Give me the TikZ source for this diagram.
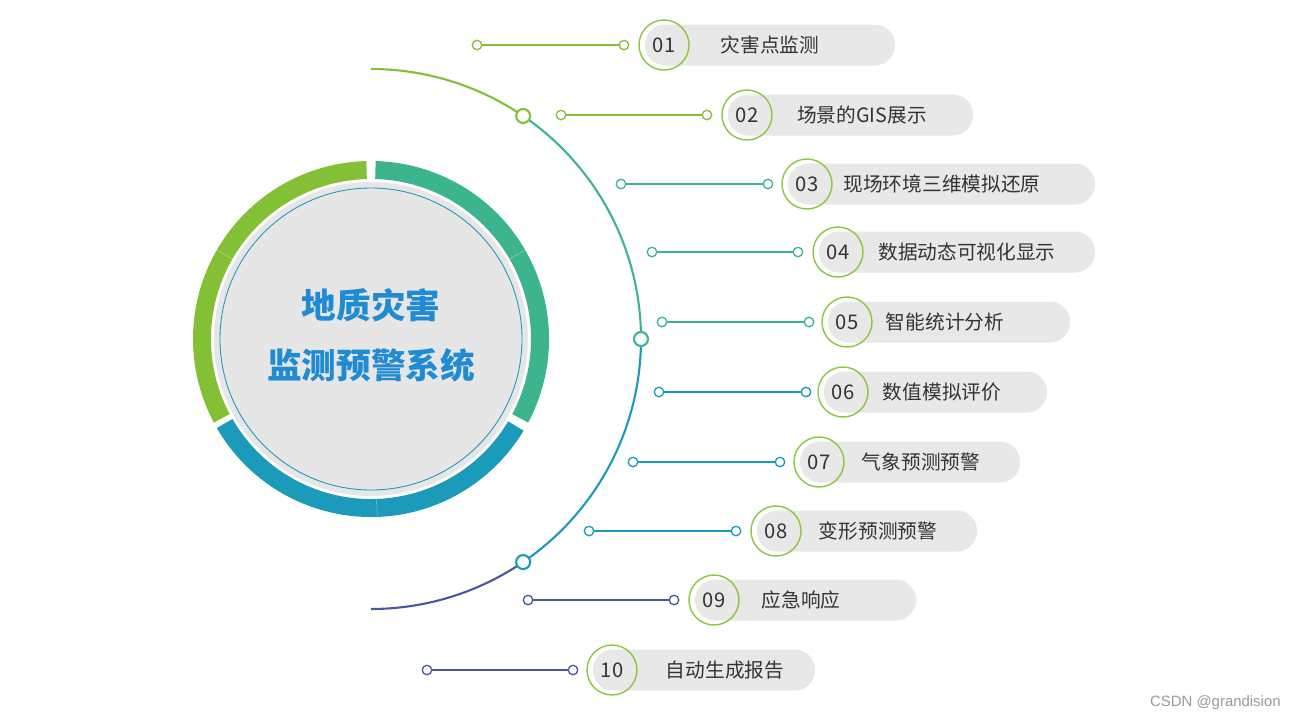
\documentclass[tikz,border=0pt]{standalone}
\usepackage{fontspec}
\setmainfont{Noto Sans CJK SC}
\newfontfamily\wmfont{Liberation Sans}
\definecolor{cgreen}{HTML}{84C036}
\definecolor{cteal}{HTML}{3CB58F}
\definecolor{cblue}{HTML}{1B9ABA}
\definecolor{cindigo}{HTML}{4B55A3}
\definecolor{ringgreen}{HTML}{8CC63F}
\definecolor{pillgray}{HTML}{E8E8E8}
\definecolor{discgray}{HTML}{E6E6E6}
\definecolor{titleblue}{HTML}{1E8BD2}
\definecolor{txtgray}{HTML}{333333}

\begin{document}
\begin{tikzpicture}[x=0.02cm, y=0.02cm,
	dot/.style={circle, fill=white, line width=0.75pt, inner sep=0pt, minimum size=0.19cm},
	arcdot/.style={circle, fill=white, line width=1.2pt, inner sep=0pt, minimum size=0.28cm},
	link/.style={line width=0.85pt},
	pill/.style={fill=pillgray, rounded corners=0.4cm, minimum height=0.82cm, inner sep=0pt},
	numring/.style={circle, draw=ringgreen, line width=0.8pt, minimum size=1cm, inner sep=0pt, text=txtgray, font=\fontsize{11.5}{13}\selectfont},
	item/.style={text=txtgray, font=\fontsize{11.2}{13}\selectfont, inner sep=0pt},
	title/.style={text=titleblue, align=center, font=\fontsize{19.7}{34}\selectfont\bfseries},
	wmark/.style={text=black!40, font=\wmfont\fontsize{8.5}{10}\selectfont, inner sep=0pt}]
	\useasboundingbox (0,-721) rectangle (1295,0);

	\begin{scope}[shift={(371,-339)}]
		\fill[discgray] (0,0) circle (157);
		\draw[cblue, line width=0.5pt] (0,0) circle (151);
		\fill[cgreen] (91.5:178) arc (91.5:208:178) -- (208:160) arc (208:91.5:160) -- cycle;
		\fill[cteal] (-28:178) arc (-28:88.5:178) -- (88.5:160) arc (88.5:-28:160) -- cycle;
		\fill[cblue] (-150:178) arc (-150:-31:178) -- (-31:160) arc (-31:-150:160) -- cycle;
		\draw[white, opacity=0.4, line width=0.3pt] (150:160) -- (150:178) (30:160) -- (30:178) (-88:160) -- (-88:178);

		\draw[cgreen, line width=1.2pt] (90:270) arc (90:55.7:270);
		\draw[cteal, line width=1.2pt] (55.7:270) arc (55.7:0:270);
		\draw[cblue, line width=1.2pt] (0:270) arc (0:-55.7:270);
		\draw[cindigo, line width=1.2pt] (-55.7:270) arc (-55.7:-90:270);
		\node[arcdot, draw=cgreen] (m1) at (55.7:270) {};
		\node[arcdot, draw=cteal] (m2) at (0:270) {};
		\node[arcdot, draw=cblue] (m3) at (-55.7:270) {};

		\node[title] (title) at (0,4) {地质灾害\\监测预警系统};
	\end{scope}

	\node[dot, draw=cgreen] (a1) at (477,-45) {}; \node[dot, draw=cgreen] (b1) at (624,-45) {};
	\draw[link, cgreen] (a1) -- (b1);
	\node[pill, minimum width=5cm] (p1) at (770,-45) {};
	\node[numring] (n1) at (664,-45) {01};
	\node[item] (t1) at (770,-45) {灾害点监测};

	\node[dot, draw=cgreen] (a2) at (561,-115) {}; \node[dot, draw=cgreen] (b2) at (707,-115) {};
	\draw[link, cgreen] (a2) -- (b2);
	\node[pill, minimum width=4.9cm] (p2) at (850.5,-115) {};
	\node[numring] (n2) at (747,-115) {02};
	\node[item] (t2) at (862,-115) {场景的GIS展示};

	\node[dot, draw=cteal] (a3) at (621,-184) {}; \node[dot, draw=cteal] (b3) at (768,-184) {};
	\draw[link, cteal] (a3) -- (b3);
	\node[pill, minimum width=6.14cm] (p3) at (941.5,-184) {};
	\node[numring] (n3) at (807,-184) {03};
	\node[item] (t3) at (942,-184) {现场环境三维模拟还原};

	\node[dot, draw=cteal] (a4) at (652,-252) {}; \node[dot, draw=cteal] (b4) at (798,-252) {};
	\draw[link, cteal] (a4) -- (b4);
	\node[pill, minimum width=5.52cm] (p4) at (957,-252) {};
	\node[numring] (n4) at (838,-252) {04};
	\node[item] (t4) at (967,-252) {数据动态可视化显示};

	\node[dot, draw=cteal] (a5) at (662,-322) {}; \node[dot, draw=cteal] (b5) at (809,-322) {};
	\draw[link, cteal] (a5) -- (b5);
	\node[pill, minimum width=4.84cm] (p5) at (949,-322) {};
	\node[numring] (n5) at (847,-322) {05};
	\node[item] (t5) at (945,-322) {智能统计分析};

	\node[dot, draw=cblue] (a6) at (659,-392) {}; \node[dot, draw=cblue] (b6) at (806,-392) {};
	\draw[link, cblue] (a6) -- (b6);
	\node[pill, minimum width=4.46cm] (p6) at (935.5,-392) {};
	\node[numring] (n6) at (843,-392) {06};
	\node[item] (t6) at (942,-392) {数值模拟评价};

	\node[dot, draw=cblue] (a7) at (633,-462) {}; \node[dot, draw=cblue] (b7) at (780,-462) {};
	\draw[link, cblue] (a7) -- (b7);
	\node[pill, minimum width=4.4cm] (p7) at (910,-462) {};
	\node[numring] (n7) at (819,-462) {07};
	\node[item] (t7) at (921,-462) {气象预测预警};

	\node[dot, draw=cblue] (a8) at (589,-531) {}; \node[dot, draw=cblue] (b8) at (736,-531) {};
	\draw[link, cblue] (a8) -- (b8);
	\node[pill, minimum width=4.4cm] (p8) at (867,-531) {};
	\node[numring] (n8) at (776,-531) {08};
	\node[item] (t8) at (878,-531) {变形预测预警};

	\node[dot, draw=cindigo] (a9) at (528,-600) {}; \node[dot, draw=cindigo] (b9) at (674,-600) {};
	\draw[link, cindigo] (a9) -- (b9);
	\node[pill, minimum width=4.42cm] (p9) at (805.5,-600) {};
	\node[numring] (n9) at (714,-600) {09};
	\node[item] (t9) at (801,-600) {应急响应};

	\node[dot, draw=cindigo] (a10) at (427,-670) {}; \node[dot, draw=cindigo] (b10) at (573,-670) {};
	\draw[link, cindigo] (a10) -- (b10);
	\node[pill, minimum width=4.44cm] (p10) at (704,-670) {};
	\node[numring] (n10) at (612,-670) {10};
	\node[item] (t10) at (725,-670) {自动生成报告};

	\node[wmark, anchor=east] (wm) at (1281,-703) {CSDN @grandision};
\end{tikzpicture}
\end{document}
